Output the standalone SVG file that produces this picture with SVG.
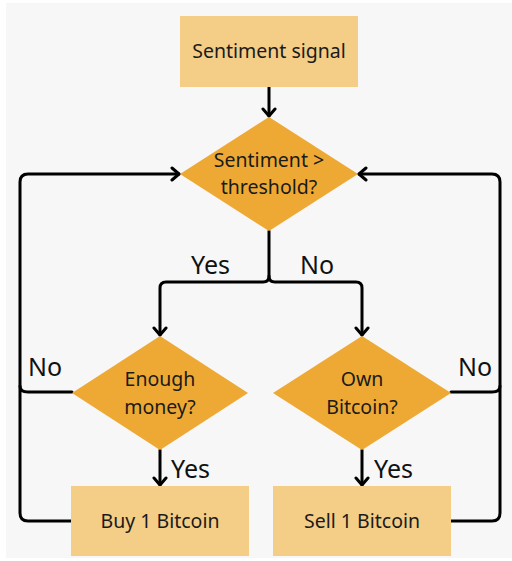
<svg xmlns="http://www.w3.org/2000/svg" width="512" height="561" viewBox="0 0 512 561">
<style>
.box{fill:#f4cd87}
.dia{fill:#eea935}
.t{font-family:"Noto Sans","Liberation Sans",sans-serif;font-size:19.5px;fill:#1a1a1a;text-anchor:middle}
.lb{font-family:"Noto Sans","Liberation Sans",sans-serif;font-size:25px;fill:#111}
.c{fill:none;stroke:#000;stroke-width:3;stroke-linejoin:round;stroke-linecap:round}
</style>
<defs>
<marker id="ah" markerUnits="userSpaceOnUse" markerWidth="16" markerHeight="16" refX="12" refY="8" orient="auto" viewBox="0 0 16 16">
<path d="M5,2 L12,8 L5,14" fill="none" stroke="#000" stroke-width="3" stroke-linecap="round" stroke-linejoin="round"/>
</marker>
</defs>
<rect x="0" y="0" width="512" height="561" fill="#fff"/>
<rect x="6" y="3" width="506" height="555" fill="#f7f7f7"/>
<g id="connectors">
<path class="c" d="M269,87 V116" marker-end="url(#ah)"/>
<path class="c" d="M269,231 V276 Q269,282 263,282 H166 Q160,282 160,288 V335" marker-end="url(#ah)"/>
<path class="c" d="M269,276 Q269,282 275,282 H356 Q362,282 362,288 V335" marker-end="url(#ah)"/>
<path class="c" d="M160,450 V485" marker-end="url(#ah)"/>
<path class="c" d="M362,450 V485" marker-end="url(#ah)"/>
<path class="c" d="M71,521 H28 Q20,521 20,513 V182 Q20,174 28,174 H179" marker-end="url(#ah)"/>
<path class="c" d="M72,392 H28 Q20,392 20,386"/>
<path class="c" d="M451,521 H492 Q500,521 500,513 V182 Q500,174 492,174 H359" marker-end="url(#ah)"/>
<path class="c" d="M451,392 H492 Q500,392 500,386"/>
<text class="lb" x="191" y="274">Yes</text>
<text class="lb" x="300" y="274">No</text>
<text class="lb" x="28" y="376">No</text>
<text class="lb" x="458" y="376">No</text>
<text class="lb" x="171" y="478">Yes</text>
<text class="lb" x="374" y="478">Yes</text>
</g>
<g id="start">
<rect class="box" x="180" y="16" width="178" height="71"/>
<text class="t" x="269" y="58">Sentiment signal</text>
</g>
<g id="threshold">
<polygon class="dia" points="269,117 358,174 269,231 180,174"/>
<text class="t" x="269" y="167">Sentiment &gt;</text>
<text class="t" x="269" y="194">threshold?</text>
</g>
<g id="money">
<polygon class="dia" points="160,336 248,393 160,450 72,393"/>
<text class="t" x="160" y="386">Enough</text>
<text class="t" x="160" y="414">money?</text>
</g>
<g id="own">
<polygon class="dia" points="362,336 451,393 362,450 273,393"/>
<text class="t" x="362" y="386">Own</text>
<text class="t" x="362" y="414">Bitcoin?</text>
</g>
<g id="buy">
<rect class="box" x="71" y="486" width="178" height="70"/>
<text class="t" x="160" y="528">Buy 1 Bitcoin</text>
</g>
<g id="sell">
<rect class="box" x="273" y="486" width="178" height="70"/>
<text class="t" x="362" y="528">Sell 1 Bitcoin</text>
</g>
</svg>
